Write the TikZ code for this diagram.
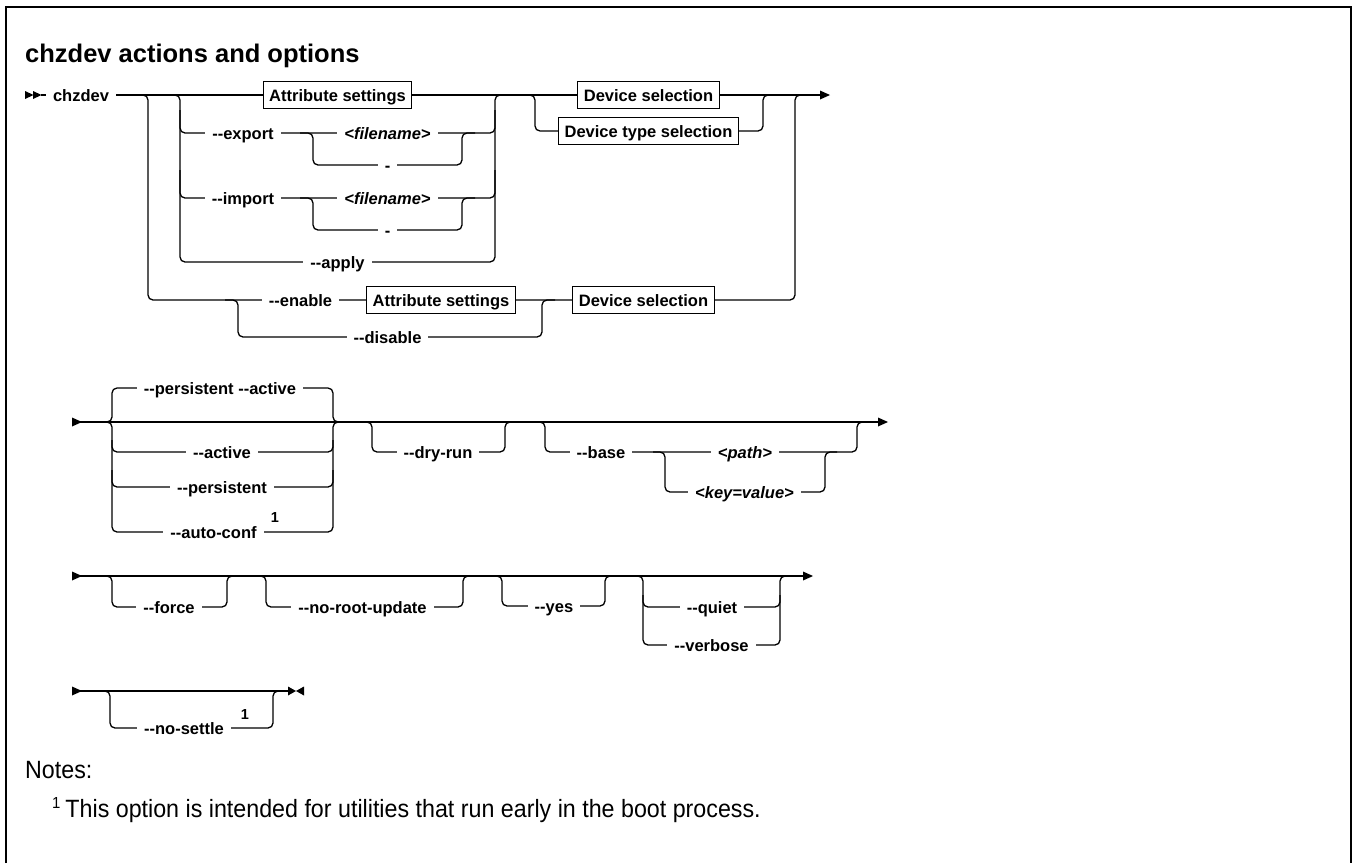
\documentclass[tikz,border=0pt]{standalone}
\usepackage{fontspec}
\newfontfamily\lf{Liberation Sans}
\newfontfamily\nf[FakeStretch=0.93]{Liberation Sans}
\usetikzlibrary{backgrounds}
\newcommand\lblfont{\lf\fontsize{16.5}{18}\selectfont\bfseries}
\newcommand\supfont{\lf\fontsize{14.5}{15}\selectfont\bfseries}
\newcommand\titlefont{\lf\fontsize{25.5}{30}\selectfont\bfseries}
\newcommand\notesfont{\nf\fontsize{25}{28}\selectfont}
\begin{document}
\begin{tikzpicture}[x=1pt,y=-1pt,
  rail/.style={line width=1.3pt, rounded corners=5pt},
  lbl/.style={font=\lblfont, fill=white, inner xsep=7pt, inner ysep=1pt, text height=12pt, text depth=0pt},
  ital/.style={lbl, font=\lblfont\itshape},
  boxnode/.style={draw, line width=1.2pt, fill=white, font=\lblfont, inner xsep=6pt, inner ysep=0pt, text height=12pt, text depth=0pt, minimum height=27pt},
  sup/.style={font=\supfont, inner sep=0pt},
  frame/.style={line width=2.5pt}]
\useasboundingbox (0,0) rectangle (1353,863);
\fill[white] (0,0) rectangle (1353,863);
% frame
\draw[frame] (6,863) -- (6,7) -- (1351,7) -- (1351,863);
\node[anchor=base west, font=\titlefont, inner sep=0pt] (title) at (25,62) {chzdev actions and options};

% ---------------- Row 1 ----------------
\fill (25,91) -- (33.5,95) -- (25,99) -- cycle;
\fill (33,91) -- (41.5,95) -- (33,99) -- cycle;
\draw[rail] (41,95) -- (820,95);
\fill (820,90.5) -- (830,95) -- (820,99.5) -- cycle;
\draw[rail] (130,95) -- (148,95) -- (148,300) -- (795,300) -- (795,95) -- (812,95);
\draw[rail] (225,300) -- (238,300) -- (238,337) -- (542,337) -- (542,300) -- (555,300);
\draw[rail] (165,95) -- (180,95) -- (180,262) -- (495,262) -- (495,95) -- (510,95);
\draw[rail] (180,110) -- (180,133) -- (495,133) -- (495,110);
\draw[rail] (180,170) -- (180,198) -- (495,198) -- (495,170);
\draw[rail] (300,133) -- (313,133) -- (313,165) -- (462,165) -- (462,133) -- (475,133);
\draw[rail] (300,198) -- (313,198) -- (313,230) -- (462,230) -- (462,198) -- (475,198);
\draw[rail] (520,95) -- (535,95) -- (535,131) -- (763,131) -- (763,95) -- (778,95);

\node[lbl] (chz) at (81,95) {chzdev};
\node[boxnode] (as1) at (337.5,95) {Attribute settings};
\node[lbl] (exp) at (243,133) {--export};
\node[ital] (fn1) at (387.5,133) {<filename>};
\node[lbl] (d1) at (387.5,165) {-};
\node[lbl] (imp) at (243,198) {--import};
\node[ital] (fn2) at (387.5,198) {<filename>};
\node[lbl] (d2) at (387.5,230) {-};
\node[lbl] (apply) at (337.5,262) {--apply};
\node[boxnode] (ds1) at (648.5,95) {Device selection};
\node[boxnode] (dts) at (648.5,131) {Device type selection};
\node[lbl] (en) at (300.5,300) {--enable};
\node[boxnode] (as2) at (441,300) {Attribute settings};
\node[boxnode] (ds2) at (643.5,300) {Device selection};
\node[lbl] (dis) at (387.5,337) {--disable};

% ---------------- Row 2 ----------------
\fill (72,417.5) -- (82,422) -- (72,426.5) -- cycle;
\draw[rail] (80,422) -- (878,422);
\fill (878,417.5) -- (888,422) -- (878,426.5) -- cycle;
\draw[rail] (100,422) -- (112,422) -- (112,388) -- (333,388) -- (333,422) -- (345,422);
\draw[rail] (100,422) -- (112,422) -- (112,452) -- (333,452) -- (333,422) -- (345,422);
\draw[rail] (112,440) -- (112,487) -- (333,487) -- (333,440);
\draw[rail] (112,470) -- (112,532) -- (333,532) -- (333,470);
\draw[rail] (360,422) -- (372,422) -- (372,452) -- (505,452) -- (505,422) -- (517,422);
\draw[rail] (533,422) -- (545,422) -- (545,452) -- (857,452) -- (857,422) -- (869,422);
\draw[rail] (653,452) -- (665,452) -- (665,492) -- (825,492) -- (825,452) -- (837,452);

\node[lbl] (pa) at (220,388) {--persistent --active};
\node[lbl] (act) at (222,452) {--active};
\node[lbl] (pers) at (222,487) {--persistent};
\node[lbl] (ac) at (213.5,532) {--auto-conf};
\node[sup] (ac1) at (275,518) {1};
\node[lbl] (dry) at (438,452) {--dry-run};
\node[lbl] (base) at (601,452) {--base};
\node[ital] (path) at (745,452) {<path>};
\node[ital] (kv) at (744.5,492) {<key=value>};

% ---------------- Row 3 ----------------
\fill (72,571.5) -- (82,576) -- (72,580.5) -- cycle;
\draw[rail] (80,576) -- (803,576);
\fill (803,571.5) -- (813,576) -- (803,580.5) -- cycle;
\draw[rail] (100,576) -- (112,576) -- (112,607) -- (227,607) -- (227,576) -- (239,576);
\draw[rail] (254,576) -- (266,576) -- (266,607) -- (463,607) -- (463,576) -- (475,576);
\draw[rail] (490,576) -- (502,576) -- (502,606) -- (605,606) -- (605,576) -- (617,576);
\draw[rail] (631,576) -- (643,576) -- (643,607) -- (780,607) -- (780,576) -- (792,576);
\draw[rail] (643,595) -- (643,645) -- (780,645) -- (780,595);

\node[lbl] (force) at (169,607) {--force};
\node[lbl] (nru) at (362.5,607) {--no-root-update};
\node[lbl] (yes) at (554,606) {--yes};
\node[lbl] (quiet) at (712,607) {--quiet};
\node[lbl] (verb) at (711.5,645) {--verbose};

% ---------------- Row 4 ----------------
\fill (72,686.5) -- (82,691) -- (72,695.5) -- cycle;
\draw[rail] (80,691) -- (289,691);
\fill (288,686.5) -- (296,691) -- (288,695.5) -- cycle;
\fill (304,686.5) -- (296,691) -- (304,695.5) -- cycle;
\draw[rail] (98,691) -- (110,691) -- (110,728) -- (273,728) -- (273,691) -- (285,691);
\node[lbl] (ns) at (184,728) {--no-settle};
\node[sup] (ns1) at (245,715) {1};

% ---------------- Notes ----------------
\node[anchor=base west, font=\notesfont, inner sep=0pt] (notes) at (25,778) {Notes:};
\node[anchor=base west, font=\notesfont, inner sep=0pt] (fnote) at (52,817) {\raisebox{9pt}{\fontsize{16}{16}\selectfont 1}\hspace{5pt}This option is intended for utilities that run early in the boot process.};
\end{tikzpicture}
\end{document}
